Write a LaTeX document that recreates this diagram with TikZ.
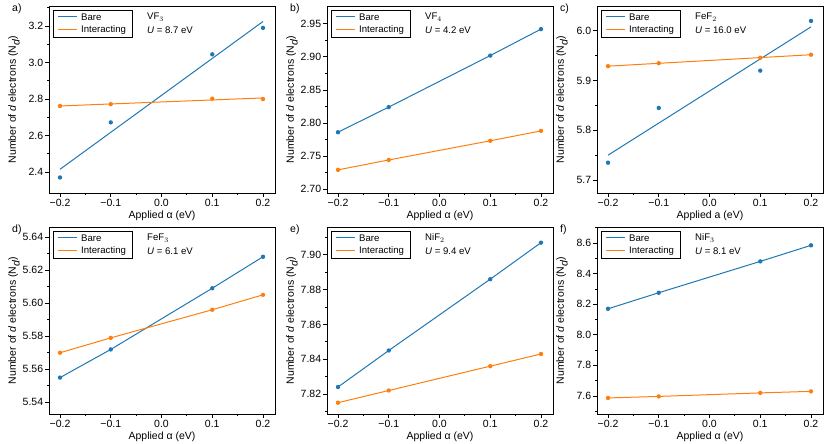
\documentclass[tikz,border=0pt]{standalone}
\usepackage{fontspec}
\setmainfont{Liberation Sans}
\usetikzlibrary{positioning}

\definecolor{bareblue}{HTML}{1F77B4}
\definecolor{interorange}{HTML}{FF7F0E}

% panel geometry: left, bottom, ymin, ymax
\newcommand\setpanel[4]{%
  \def\pL{#1}\def\pB{#2}\def\pmin{#3}%
  \pgfmathsetmacro\pys{187/(#4-#3)}}
\newcommand\dpt[2]{({\pL+112.5+507.5*(#1)},{\pB+((#2)-\pmin)*\pys})}

% frame, x axis, labels and legend of one panel
\newcommand\panelframe[5]{%
  \draw[frame] (\pL,\pB) rectangle ++(226,187);
  \foreach \xv/\xl in {-0.2/−0.2,-0.1/−0.1,0/0.0,0.1/0.1,0.2/0.2} {
    \draw[frame] ({\pL+112.5+507.5*\xv},\pB) -- ++(0,-4)
      node[ticklabel, below] {\xl};
  }
  \foreach \xv in {-0.15,-0.05,0.05,0.15}
    \draw[frame] ({\pL+112.5+507.5*\xv},\pB) -- ++(0,-2);
  \node[axislabel] at (\pL+113,\pB-23) {#2};
  \node[axislabel, rotate=90] at (\pL-35,\pB+93.5) {Number of \textit{d} electrons (N$_{\textit{d}}$)};
  \node[axislabel, anchor=north west] at (\pL-37,\pB+189) {#1};
  \draw[frame] (\pL+4,\pB+183) rectangle ++(79,-27);
  \draw[bare] (\pL+9,\pB+176) -- ++(19,0);
  \node[legendtext] at (\pL+32,\pB+176) {Bare};
  \draw[inter] (\pL+9,\pB+163) -- ++(19,0);
  \node[legendtext] at (\pL+32,\pB+163) {Interacting};
  \node[legendtext] at (\pL+98,\pB+176) {#3};
  \node[legendtext] at (\pL+98,\pB+163) {\textit{U} = #4 eV};
  \foreach \yv in {#5}
    \draw[frame] \dpt{-0.2216}{\yv} -- ++(-2,0);
}
\newcommand\ymajors[2]{%
  \foreach \yv in {#1} {
    \draw[frame] \dpt{-0.2216}{\yv} -- ++(-4,0)
      node[ticklabel, left] {\pgfmathprintnumber[fixed,fixed zerofill,precision=#2]{\yv}};
  }}
\pgfkeys{/pgf/number format/assume math mode=true}

\begin{document}
\begin{tikzpicture}[x=1pt, y=1pt,
  frame/.style={black, line width=0.8pt},
  bare/.style={bareblue, line width=1pt},
  inter/.style={interorange, line width=1pt},
  dotb/.style={fill=bareblue},
  doto/.style={fill=interorange},
  ticklabel/.style={font=\fontsize{10.5}{12}\selectfont, inner sep=1.5pt},
  axislabel/.style={font=\fontsize{10.5}{12}\selectfont, inner sep=0pt},
  legendtext/.style={font=\fontsize{9.6}{11}\selectfont, anchor=west, inner sep=0pt}]
  \useasboundingbox (0,0) rectangle (831,444);

  % a) VF3
  \setpanel{49}{251}{2.285}{3.31}
  \panelframe{a)}{Applied α (eV)}{VF$_3$}{8.7}{2.5,2.7,2.9,3.1,3.3}
  \ymajors{2.4,2.6,2.8,3.0,3.2}{1}
  \draw[bare] \dpt{-0.2}{2.415} -- \dpt{0.2}{3.225};
  \draw[inter] \dpt{-0.2}{2.762} -- \dpt{0.2}{2.806};
  \foreach \xv/\bv/\iv in {-0.2/2.37/2.762,-0.1/2.672/2.772,0.1/3.045/2.802,0.2/3.19/2.80} {
    \fill[dotb] \dpt{\xv}{\bv} circle (2.2);
    \fill[doto] \dpt{\xv}{\iv} circle (2.2);
  }

  % b) VF4
  \setpanel{327}{251}{2.694}{2.977}
  \panelframe{b)}{Applied α (eV)}{VF$_4$}{4.2}{2.725,2.775,2.825,2.875,2.925}
  \ymajors{2.70,2.75,2.80,2.85,2.90,2.95}{2}
  \draw[bare] \dpt{-0.2}{2.786} -- \dpt{-0.1}{2.824} -- \dpt{0.1}{2.902} -- \dpt{0.2}{2.942};
  \draw[inter] \dpt{-0.2}{2.729} -- \dpt{-0.1}{2.744} -- \dpt{0.1}{2.773} -- \dpt{0.2}{2.788};
  \foreach \xv/\bv/\iv in {-0.2/2.786/2.729,-0.1/2.824/2.744,0.1/2.902/2.773,0.2/2.942/2.788} {
    \fill[dotb] \dpt{\xv}{\bv} circle (2.2);
    \fill[doto] \dpt{\xv}{\iv} circle (2.2);
  }

  % c) FeF2
  \setpanel{597}{251}{5.674}{6.05}
  \panelframe{c)}{Applied a (eV)}{FeF$_2$}{16.0}{5.75,5.85,5.95}
  \ymajors{5.7,5.8,5.9,6.0}{1}
  \draw[bare] \dpt{-0.2}{5.75} -- \dpt{0.2}{6.008};
  \draw[inter] \dpt{-0.2}{5.929} -- \dpt{0.2}{5.952};
  \foreach \xv/\bv/\iv in {-0.2/5.735/5.929,-0.1/5.845/5.935,0.1/5.92/5.946,0.2/6.02/5.952} {
    \fill[dotb] \dpt{\xv}{\bv} circle (2.2);
    \fill[doto] \dpt{\xv}{\iv} circle (2.2);
  }

  % d) FeF3
  \setpanel{49}{30}{5.533}{5.646}
  \panelframe{d)}{Applied α (eV)}{FeF$_3$}{6.1}{5.55,5.57,5.59,5.61,5.63}
  \ymajors{5.54,5.56,5.58,5.60,5.62,5.64}{2}
  \draw[bare] \dpt{-0.2}{5.555} -- \dpt{-0.1}{5.572} -- \dpt{0.1}{5.609} -- \dpt{0.2}{5.628};
  \draw[inter] \dpt{-0.2}{5.570} -- \dpt{-0.1}{5.579} -- \dpt{0.1}{5.596} -- \dpt{0.2}{5.605};
  \foreach \xv/\bv/\iv in {-0.2/5.555/5.570,-0.1/5.572/5.579,0.1/5.609/5.596,0.2/5.628/5.605} {
    \fill[dotb] \dpt{\xv}{\bv} circle (2.2);
    \fill[doto] \dpt{\xv}{\iv} circle (2.2);
  }

  % e) NiF2
  \setpanel{327}{30}{7.8085}{7.916}
  \panelframe{e)}{Applied α (eV)}{NiF$_2$}{9.4}{7.81,7.83,7.85,7.87,7.89,7.91}
  \ymajors{7.82,7.84,7.86,7.88,7.90}{2}
  \draw[bare] \dpt{-0.2}{7.824} -- \dpt{-0.1}{7.845} -- \dpt{0.1}{7.886} -- \dpt{0.2}{7.907};
  \draw[inter] \dpt{-0.2}{7.815} -- \dpt{-0.1}{7.822} -- \dpt{0.1}{7.836} -- \dpt{0.2}{7.843};
  \foreach \xv/\bv/\iv in {-0.2/7.824/7.815,-0.1/7.845/7.822,0.1/7.886/7.836,0.2/7.907/7.843} {
    \fill[dotb] \dpt{\xv}{\bv} circle (2.2);
    \fill[doto] \dpt{\xv}{\iv} circle (2.2);
  }

  % f) NiF3
  \setpanel{597}{30}{7.482}{8.705}
  \panelframe{f)}{Applied α (eV)}{NiF$_3$}{8.1}{7.5,7.7,7.9,8.1,8.3,8.5,8.7}
  \ymajors{7.6,7.8,8.0,8.2,8.4,8.6}{1}
  \draw[bare] \dpt{-0.2}{8.17} -- \dpt{-0.1}{8.275} -- \dpt{0.1}{8.48} -- \dpt{0.2}{8.585};
  \draw[inter] \dpt{-0.2}{7.587} -- \dpt{-0.1}{7.597} -- \dpt{0.1}{7.62} -- \dpt{0.2}{7.63};
  \foreach \xv/\bv/\iv in {-0.2/8.17/7.587,-0.1/8.275/7.597,0.1/8.48/7.62,0.2/8.585/7.63} {
    \fill[dotb] \dpt{\xv}{\bv} circle (2.2);
    \fill[doto] \dpt{\xv}{\iv} circle (2.2);
  }
\end{tikzpicture}
\end{document}
